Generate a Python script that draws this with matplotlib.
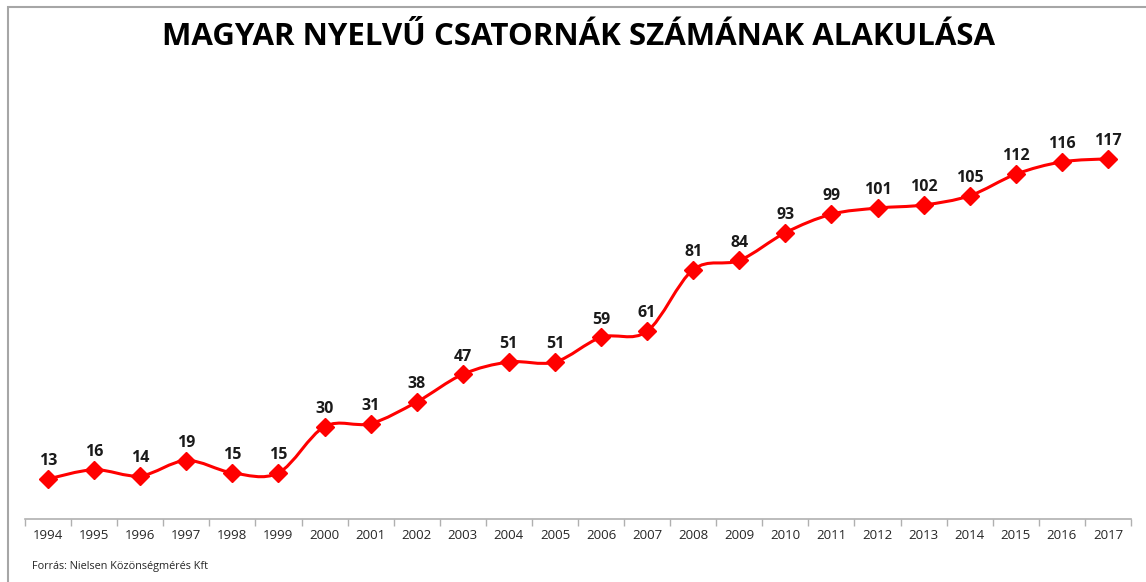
import matplotlib
matplotlib.use("Agg")
import matplotlib.pyplot as plt
import numpy as np
from matplotlib.path import Path
from matplotlib.patches import PathPatch, Rectangle

years = [str(y) for y in range(1994, 2018)]
values = [13, 16, 14, 19, 15, 15, 30, 31, 38, 47, 51, 51, 59, 61, 81, 84, 93, 99, 101, 102, 105, 112, 116, 117]
title = "MAGYAR NYELVŰ CSATORNÁK SZÁMÁNAK ALAKULÁSA"
source = "Forrás: Nielsen Közönségmérés Kft"

plt.rcParams['font.family'] = ['Open Sans', 'DejaVu Sans']

fig = plt.figure(figsize=(11.46, 5.82), dpi=100)
ax = fig.add_axes([25/1146, 1-519/582, (1131-25)/1146, (519-88)/582])

x = np.arange(len(values), dtype=float)
y = np.array(values, dtype=float)

# smooth (Catmull-Rom style) curve through points
verts = [(x[0], y[0])]
codes = [Path.MOVETO]
n = len(x)
for i in range(n - 1):
    p0 = np.array([x[max(i-1, 0)], y[max(i-1, 0)]])
    p1 = np.array([x[i], y[i]])
    p2 = np.array([x[i+1], y[i+1]])
    p3 = np.array([x[min(i+2, n-1)], y[min(i+2, n-1)]])
    c1 = p1 + (p2 - p0) / 6
    c2 = p2 - (p3 - p1) / 6
    verts += [tuple(c1), tuple(c2), tuple(p2)]
    codes += [Path.CURVE4] * 3
ax.add_patch(PathPatch(Path(verts, codes), fill=False, edgecolor='#ff0000', lw=2.2, zorder=2))
ax.plot(x, y, linestyle='none', marker='D', markersize=9, color='#ff0000', zorder=3)

for xi, yi in zip(x, y):
    ax.annotate(str(int(yi)), (xi, yi), xytext=(0, 7), textcoords='offset points',
                ha='center', va='bottom', fontsize=11.5, fontweight='bold', color='#1a1a1a')

ax.set_xlim(-0.5, n - 0.5)
ax.set_ylim(0, 140)
ax.set_yticks([])
for s in ['top', 'right', 'left']:
    ax.spines[s].set_visible(False)
ax.spines['bottom'].set_color('#b0b0b0')
ax.spines['bottom'].set_linewidth(1.2)
ax.set_xticks(np.arange(-0.5, n, 1.0))
ax.set_xticklabels([])
ax.tick_params(axis='x', length=5, color='#b0b0b0', width=1)
ax.set_xticks(x, minor=True)
ax.set_xticklabels(years, minor=True, fontsize=9.5, color='#262626')
ax.tick_params(axis='x', which='minor', length=0, pad=7)

fig.text(578/1146, 1-37/582, title, ha='center', va='center', fontsize=22.5, fontweight='bold', color='black')
fig.text(32/1146, 1-567/582, source, ha='left', va='center', fontsize=7.8, color='#262626')

fig.patches.append(Rectangle((8/1146, -0.1), 1.2, 1 - 7/582 + 0.1, transform=fig.transFigure,
                             fill=False, edgecolor='#a6a6a6', lw=1.5))

fig.savefig("out.png", dpi=100)
